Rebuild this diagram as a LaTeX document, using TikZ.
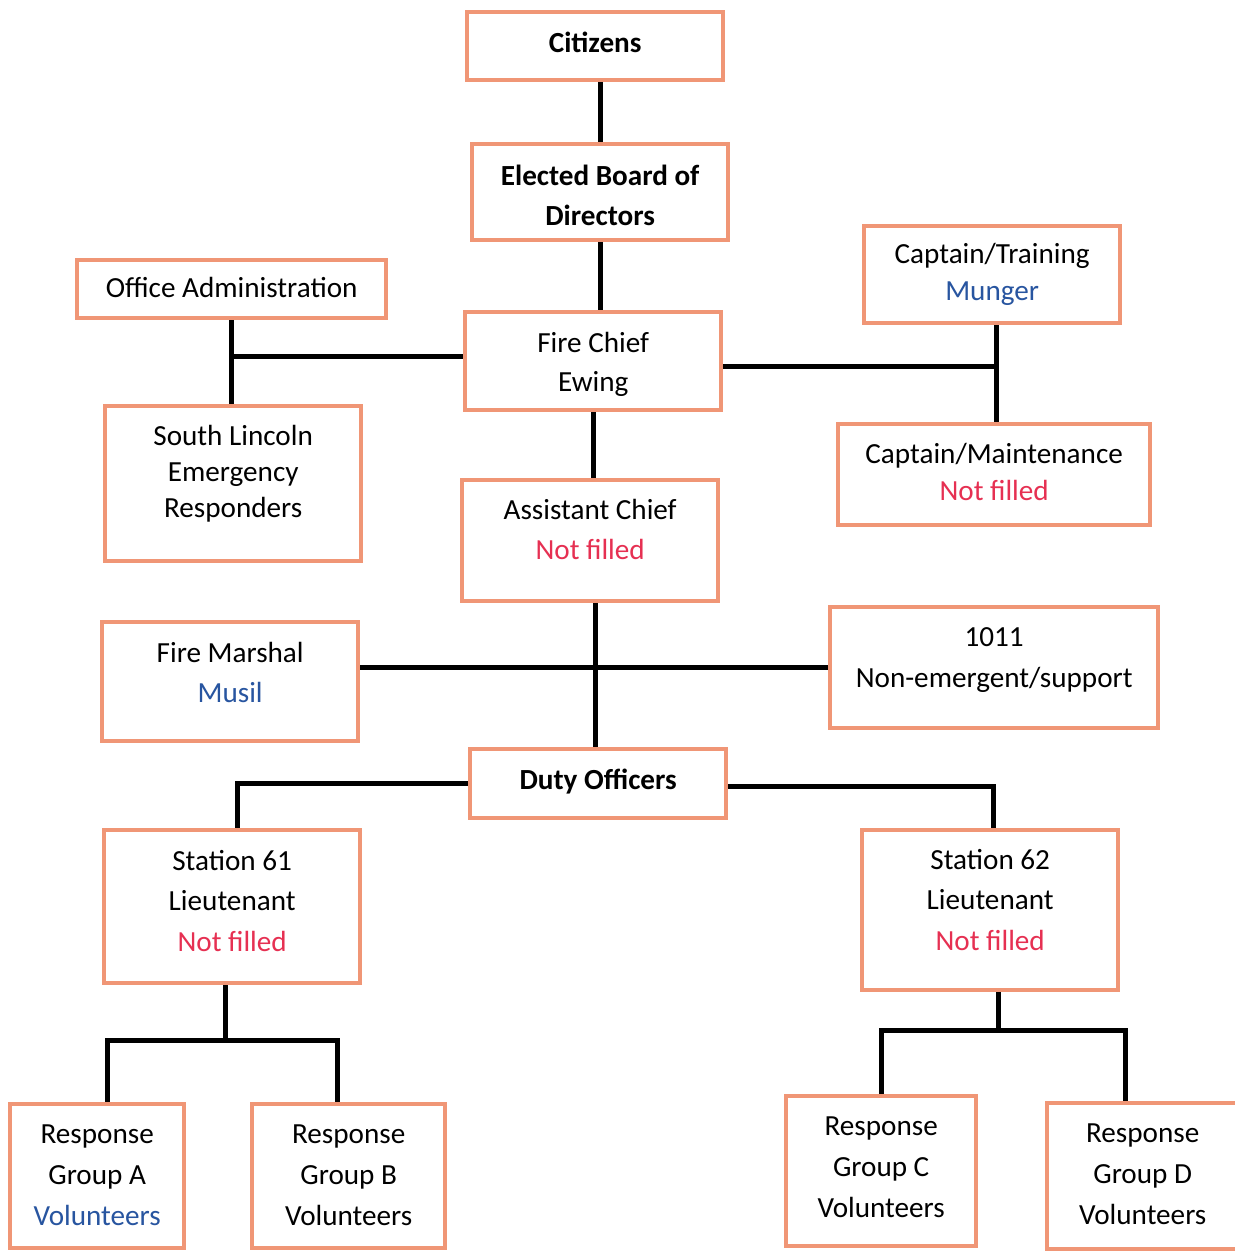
\documentclass[tikz,border=0pt]{standalone}
\usepackage{fontspec}
\setmainfont{Carlito}
\definecolor{boxc}{RGB}{240,150,118}
\definecolor{nf}{RGB}{230,48,82}
\definecolor{vol}{RGB}{40,85,160}
\pgfdeclarelayer{bg}
\pgfsetlayers{bg,main}
\newcommand\pb[5]{\parbox[c][#2][t]{#1}{\centering\fontsize{16.6pt}{#4}\selectfont\rule{0pt}{#3}#5\par}}
\tikzset{
  orgbox/.style={draw=boxc, line width=2.5pt, fill=white, inner sep=0pt, anchor=north west},
  link/.style={line width=2.8pt, black},
}
\begin{document}
\begin{tikzpicture}[x=0.02cm, y=-0.02cm]
\useasboundingbox (0,0) rectangle (1234,1253);

\node[orgbox] (cit) at (465,10) {\pb{5.12cm}{1.36cm}{22.8pt}{23.3pt}{\bfseries Citizens}};
\node[orgbox] (board) at (470,142) {\pb{5.12cm}{1.92cm}{23.3pt}{22.8pt}{\bfseries Elected Board of\\Directors}};
\node[orgbox] (office) at (75,258) {\pb{6.18cm}{1.16cm}{21.1pt}{22.8pt}{Office Administration}};
\node[orgbox] (captr) at (862,224) {\pb{5.12cm}{1.94cm}{21.0pt}{21.3pt}{Captain/Training\\\textcolor{vol}{Munger}}};
\node[orgbox] (chief) at (463,310) {\pb{5.12cm}{1.96cm}{22.8pt}{22.5pt}{Fire Chief\\Ewing}};
\node[orgbox] (slin) at (103,404) {\pb{5.12cm}{3.10cm}{22.2pt}{20.5pt}{South Lincoln\\Emergency\\Responders}};
\node[orgbox] (captm) at (836,422) {\pb{6.24cm}{2.02cm}{22.2pt}{21.1pt}{Captain/Maintenance\\\textcolor{nf}{Not filled}}};
\node[orgbox] (asst) at (460,478) {\pb{5.12cm}{2.42cm}{22.5pt}{22.8pt}{Assistant Chief\\\textcolor{nf}{Not filled}}};
\node[orgbox] (marshal) at (100,620) {\pb{5.12cm}{2.38cm}{22.8pt}{22.8pt}{Fire Marshal\\\textcolor{vol}{Musil}}};
\node[orgbox] (n1011) at (828,605) {\pb{6.56cm}{2.42cm}{22.2pt}{23.3pt}{1011\\Non-emergent/support}};
\node[orgbox] (duty) at (468,747) {\pb{5.12cm}{1.38cm}{22.8pt}{22.8pt}{\bfseries Duty Officers}};
\node[orgbox] (st61) at (102,828) {\pb{5.12cm}{3.06cm}{22.8pt}{23.0pt}{Station 61\\Lieutenant\\\textcolor{nf}{Not filled}}};
\node[orgbox] (st62) at (860,828) {\pb{5.12cm}{3.20cm}{22.2pt}{23.0pt}{Station 62\\Lieutenant\\\textcolor{nf}{Not filled}}};
\node[orgbox] (ra) at (8,1102) {\pb{3.48cm}{2.88cm}{22.2pt}{23.3pt}{Response\\Group A\\\textcolor{vol}{Volunteers}}};
\node[orgbox] (rb) at (250,1102) {\pb{3.86cm}{2.88cm}{22.2pt}{23.3pt}{Response\\Group B\\Volunteers}};
\node[orgbox] (rc) at (784,1094) {\pb{3.80cm}{3.00cm}{22.2pt}{23.3pt}{Response\\Group C\\Volunteers}};
\node[orgbox] (rd) at (1045,1101) {\pb{4.00cm}{2.92cm}{22.2pt}{23.3pt}{\hspace*{-0.18cm}Response\\\hspace*{-0.18cm}Group D\\\hspace*{-0.18cm}Volunteers}};

\begin{pgfonlayer}{bg}
\fill[white] (0,0) rectangle (1234,1253);
\draw[link] (board.north |- cit.south) -- (board.north);
\draw[link] (board.south) -- (board.south |- chief.north);
\draw[link] (office.south) -- (office.south |- slin.north);
\draw[link] ([yshift=0.1cm]chief.west) coordinate (cw) -- (cw -| office.south);
\draw[link] ([xshift=0.08cm]captr.south) coordinate (ctb) -- (ctb |- captm.north);
\draw[link] ([yshift=-0.1cm]chief.east) coordinate (ce) -- (ce -| ctb);
\draw[link] (chief.south) -- (chief.south |- asst.north);
\draw[link] ([xshift=0.1cm]asst.south) coordinate (asb) -- (asb |- duty.north);
\draw[link] (n1011.west) -- (n1011.west -| marshal.east);
\draw[link] (duty.west) -| ([xshift=0.1cm]st61.north);
\draw[link] ([yshift=-0.06cm]duty.east) -| ([xshift=0.06cm]st62.north);
\draw[link] ([xshift=-0.14cm]st61.south) -- ++(0,55) coordinate (j61);
\draw[link] ([xshift=0.2cm]ra.north) |- (j61) -| ([xshift=-0.23cm]rb.north);
\draw[link] ([xshift=0.16cm]st62.south) -- ++(0,38) coordinate (j62);
\draw[link] (rc.north) |- (j62) -| ([xshift=-0.44cm]rd.north);
\end{pgfonlayer}
\end{tikzpicture}
\end{document}
